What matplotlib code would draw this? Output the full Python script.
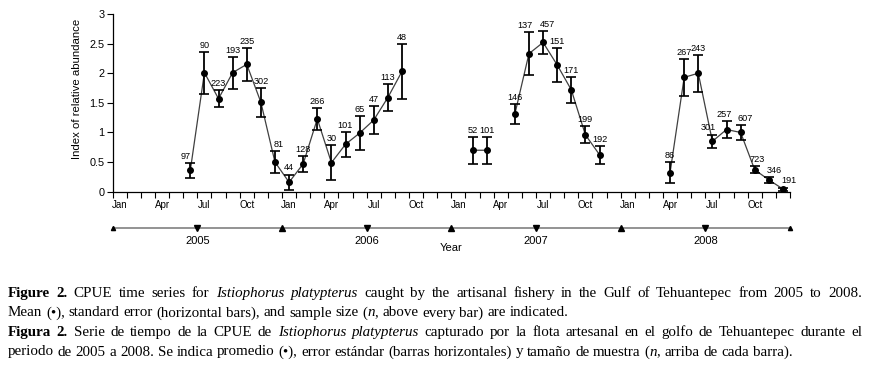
import numpy as np
import matplotlib
matplotlib.use('Agg')
import matplotlib.pyplot as plt
from matplotlib.transforms import blended_transform_factory

# months counted from Jan 2005 (0 = Jan 2005)
month_idx = [5, 6, 7, 8, 9, 10, 11,
             12, 13, 14, 15, 16, 17, 18, 19, 20,
             25, 26, 28, 29, 30, 31, 32, 33, 34,
             39, 40, 41, 42, 43, 44, 45, 46, 47]
cpue = [0.36, 2.01, 1.57, 2.01, 2.15, 1.51, 0.50,
        0.16, 0.47, 1.23, 0.49, 0.80, 0.99, 1.21, 1.59, 2.03,
        0.70, 0.70, 1.31, 2.33, 2.52, 2.14, 1.72, 0.96, 0.625,
        0.32, 1.93, 2.00, 0.85, 1.05, 1.00, 0.37, 0.20, 0.045]
se = [0.13, 0.355, 0.145, 0.27, 0.275, 0.245, 0.19,
      0.13, 0.13, 0.18, 0.30, 0.21, 0.285, 0.23, 0.22, 0.46,
      0.225, 0.225, 0.165, 0.365, 0.19, 0.29, 0.215, 0.145, 0.15,
      0.175, 0.31, 0.31, 0.115, 0.15, 0.12, 0.06, 0.045, 0.025]
n_labels = [97, 90, 223, 193, 235, 302, 81,
            44, 128, 266, 30, 101, 65, 47, 113, 48,
            52, 101, 146, 137, 457, 151, 171, 199, 192,
            86, 267, 243, 301, 257, 607, 723, 346, 191]
month_names = ['Jan', 'Apr', 'Jul', 'Oct']
years = ['2005', '2006', '2007', '2008']
y_ticks = [0, 0.5, 1, 1.5, 2, 2.5, 3]
y_tick_labels = ['0', '0.5', '1', '1.5', '2', '2.5', '3']

caption = [
    ([('Figure 2.', 'bold'), (' CPUE time series for ', 'normal'),
      ('Istiophorus platypterus', 'italic'),
      (' caught by the artisanal fishery in the Gulf of Tehuantepec from 2005 to 2008.', 'normal')], True),
    ([('Mean (\u2022), standard error (horizontal bars), and sample size (', 'normal'),
      ('n', 'italic'), (', above every bar) are indicated.', 'normal')], False),
    ([('Figura 2.', 'bold'), (' Serie de tiempo de la CPUE de ', 'normal'),
      ('Istiophorus platypterus', 'italic'),
      (' capturado por la flota artesanal en el golfo de Tehuantepec durante el', 'normal')], True),
    ([('periodo de 2005 a 2008. Se indica promedio (\u2022), error est\u00e1ndar (barras horizontales) y tama\u00f1o de muestra (', 'normal'),
      ('n', 'italic'), (', arriba de cada barra).', 'normal')], False),
]

SANS = ['Liberation Sans', 'DejaVu Sans']
SERIF = ['Liberation Serif', 'DejaVu Serif']
W, H = 869, 368

# small horizontal nudges (points) for crowded sample-size labels
label_nudge = {0: -3, 6: 3, 19: -3, 20: 3, 28: -3, 29: -2, 30: 3, 31: 2, 32: 4, 33: 4}


def draw_caption_line(fig, renderer, segments, x0, x1, y, size, justify):
    '''Places one caption line word by word, optionally justified.'''
    words = []
    cur = []
    for text, style in segments:
        parts = text.split(' ')
        for k, p in enumerate(parts):
            if k > 0 and cur:
                words.append(cur)
                cur = []
            if p:
                cur.append((p, style))
    if cur:
        words.append(cur)

    def make(txt, style):
        return fig.text(0, y, txt, fontsize=size, family=SERIF, va='baseline',
                        ha='left',
                        fontweight='bold' if style == 'bold' else 'normal',
                        fontstyle='italic' if style == 'italic' else 'normal')

    def advance(txt, style):
        # advance width: measured between two fixed glyphs
        probe = make('|' + txt + '|', style)
        w = probe.get_window_extent(renderer).width
        probe.set_text('||')
        w -= probe.get_window_extent(renderer).width
        probe.remove()
        return w

    space = advance(' ', 'normal')

    items = []
    widths = []
    for word in words:
        pieces = []
        total = 0
        for txt, style in word:
            w = advance(txt, style)
            pieces.append((make(txt, style), w))
            total += w
        items.append(pieces)
        widths.append(total)
    if justify and len(items) > 1:
        gap = ((x1 - x0) * W - sum(widths)) / (len(items) - 1)
    else:
        gap = space
    xp = x0 * W
    for pieces, wtot in zip(items, widths):
        xx = xp
        for t, w in pieces:
            t.set_x(xx / W)
            xx += w
        xp += wtot + gap


fig = plt.figure(figsize=(W / 100, H / 100), dpi=100)
ax = fig.add_axes([112.7 / W, 1 - 191.7 / H, (790 - 112.7) / W, (191.7 - 14) / H])

x = np.array(month_idx) + 0.5
y = np.array(cpue)
xs, ys = [], []
for i in range(len(x)):
    if i > 0 and month_idx[i] - month_idx[i - 1] > 1:
        xs.append(np.nan)
        ys.append(np.nan)
    xs.append(x[i])
    ys.append(y[i])
ax.plot(xs, ys, color='#404040', lw=0.9, zorder=2)
ax.errorbar(x, y, yerr=se, fmt='o', color='black', ms=4, elinewidth=1.3,
            capsize=3.5, capthick=1.2, zorder=3, clip_on=False)
for i, (xi, yi, si, n) in enumerate(zip(x, y, se, n_labels)):
    ax.annotate(str(n), (xi, yi + si), xytext=(label_nudge.get(i, 0), 1.5),
                textcoords='offset points', ha='center', va='bottom',
                fontsize=6.6, family=SANS)

ax.set_xlim(0, 48)
ax.set_ylim(0, 3)
ax.set_yticks(y_ticks)
ax.set_yticklabels(y_tick_labels, family=SANS, fontsize=7.8)
ax.set_xticks(np.arange(0, 49), minor=True)
ax.set_xticks([12 * k + m + 0.5 for k in range(len(years)) for m in (0, 3, 6, 9)])
ax.set_xticklabels(month_names * len(years), family=SANS, fontsize=7)
ax.tick_params(axis='x', which='major', length=0, pad=6)
ax.tick_params(axis='x', which='minor', length=4, width=0.8, direction='out')
ax.tick_params(axis='y', length=4, width=0.8, direction='out', pad=2)
for side in ('top', 'right'):
    ax.spines[side].set_visible(False)
for side in ('left', 'bottom'):
    ax.spines[side].set_linewidth(0.9)
ax.set_ylabel('Index of relative abundance', family=SANS, fontsize=8.2)
ax.yaxis.set_label_coords(-0.045, 0.578)

# year bracket below the month axis
tr = blended_transform_factory(ax.transData, ax.transAxes)
yb = -0.2026
ax.plot([0, 48], [yb, yb], color='#808080', lw=1.2, transform=tr, clip_on=False)
ax.plot([12, 24, 36], [yb] * 3, ls='none', marker='^', ms=4, color='black',
        transform=tr, clip_on=False)
ax.plot([0, 48], [yb] * 2, ls='none', marker='^', ms=3, color='black',
        transform=tr, clip_on=False)
ax.plot([12 * k + 6 for k in range(len(years))], [yb] * len(years), ls='none',
        marker='v', ms=4, color='black', transform=tr, clip_on=False)
for k, yr in enumerate(years):
    ax.text(12 * k + 6, -0.277, yr, transform=tr, ha='center', va='center',
            family=SANS, fontsize=8)
ax.text(24, -0.317, 'Year', transform=tr, ha='center', va='center',
        family=SANS, fontsize=8)

renderer = fig.canvas.get_renderer()
baselines = [297, 316.5, 336, 355.5]
for (segments, justify), yl in zip(caption, baselines):
    draw_caption_line(fig, renderer, segments, 8 / W, 862 / W, 1 - yl / H, 10.8, justify)

fig.savefig('out.png', dpi=100)
plt.close(fig)
